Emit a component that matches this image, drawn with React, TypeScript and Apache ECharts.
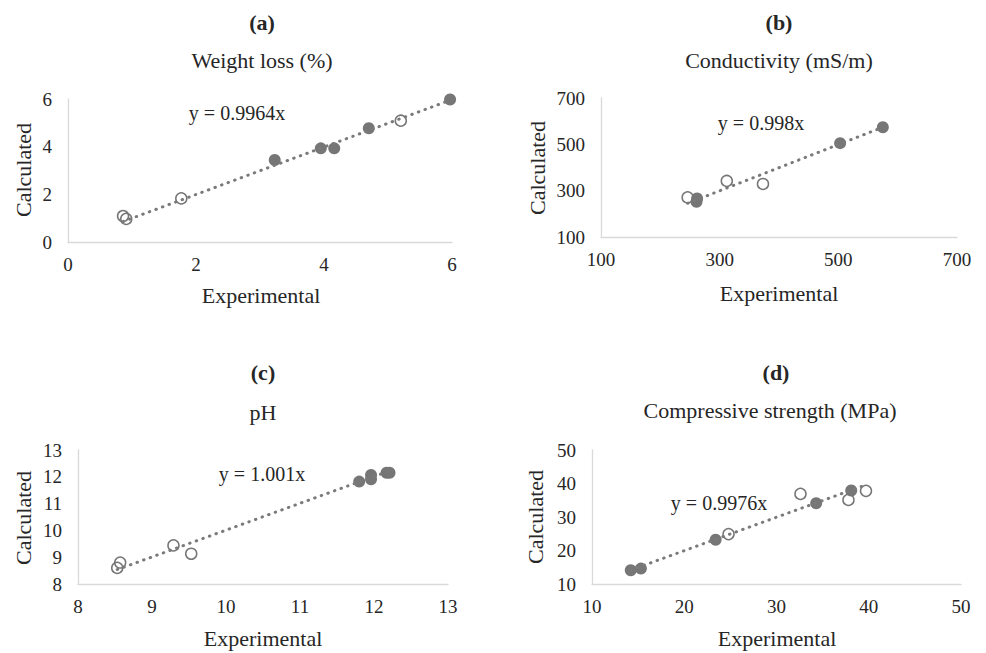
import React, { useEffect, useRef } from "react";
import * as echarts from "echarts";

// ---------- data ----------
const panelLetters = ["(a)", "(b)", "(c)", "(d)"];
const panelTitles = ["Weight loss (%)", "Conductivity (mS/m)", "pH", "Compressive strength (MPa)"];
const equations = ["y = 0.9964x", "y = 0.998x", "y = 1.001x", "y = 0.9976x"];
const slopes = [0.9964, 0.998, 1.001, 0.9976];

const axisMin = [0, 100, 8, 10];
const axisMax = [6, 700, 13, 50];
const axisInterval = [2, 200, 1, 10];

// (a) Weight loss
const aFilled = [[3.23, 3.44], [3.95, 3.93], [4.16, 3.93], [4.70, 4.77], [5.97, 5.98]];
const aHollow = [[0.86, 1.09], [0.91, 0.97], [1.77, 1.83], [5.20, 5.09]];
// (b) Conductivity
const bFilled = [[261, 252], [262, 266], [503, 505], [575, 574]];
const bHollow = [[246, 271], [312, 342], [373, 329]];
// (c) pH
const cFilled = [[11.80, 11.82], [11.96, 12.07], [11.96, 11.91], [12.17, 12.15], [12.21, 12.15]];
const cHollow = [[8.53, 8.60], [8.57, 8.80], [9.29, 9.44], [9.53, 9.13]];
// (d) Compressive strength
const dFilled = [[14.2, 14.1], [15.3, 14.6], [23.4, 23.2], [34.3, 34.1], [38.1, 37.9]];
const dHollow = [[24.8, 24.9], [32.6, 36.9], [37.8, 35.1], [39.7, 37.8]];

const filledSets = [aFilled, bFilled, cFilled, dFilled];
const hollowSets = [aHollow, bHollow, cHollow, dHollow];

// ---------- layout ----------
const grids = [
  { left: 68, top: 99, width: 384, height: 143 },
  { left: 601, top: 98, width: 356, height: 139 },
  { left: 78, top: 450, width: 370, height: 134 },
  { left: 592, top: 450, width: 369, height: 134 },
];
const letterPos = [[262, 22], [779, 22], [263, 372], [776, 372]];
const titlePos = [[262, 60], [779, 60], [263, 412], [770, 410]];
const eqPos = [[237, 113], [761, 123], [262, 474], [719, 503]];
const xNamePos = [[261, 295], [779, 293], [263, 638], [777, 638]];
const yNamePos = [[23, 170], [537, 168], [23, 518], [535, 517]];

const FONT = "Liberation Serif, Tinos, Times New Roman, DejaVu Serif, serif";
const TXT = "#262626";
const MARK = "#767676";

export default function App() {
  const ref = useRef<HTMLDivElement>(null);
  useEffect(() => {
    if (!ref.current) return;
    const chart = echarts.init(ref.current, undefined, { renderer: "svg" });

    const series: any[] = [];
    const xAxes: any[] = [];
    const yAxes: any[] = [];
    const graphics: any[] = [];

    const txt = (text: string, x: number, y: number, size: number, weight: string, rot = 0, z = 5) => ({
      type: "text",
      x,
      y,
      z,
      rotation: rot,
      style: {
        text,
        fill: TXT,
        fontFamily: FONT,
        fontSize: size,
        fontWeight: weight,
        textAlign: "center",
        textVerticalAlign: "middle",
      },
    });

    for (let i = 0; i < 4; i++) {
      const axisCommon = {
        type: "value",
        min: axisMin[i],
        max: axisMax[i],
        interval: axisInterval[i],
        gridIndex: i,
        axisLine: { show: true, lineStyle: { color: "#d9d9d9", width: 1.3 } },
        axisTick: { show: false },
        splitLine: { show: false },
      };
      xAxes.push({
        ...axisCommon,
        axisLabel: { color: TXT, fontFamily: FONT, fontSize: 19, margin: 13 },
      });
      yAxes.push({
        ...axisCommon,
        axisLabel: { color: TXT, fontFamily: FONT, fontSize: 19, margin: 16 },
      });

      const all = filledSets[i].concat(hollowSets[i]);
      const xs = all.map((p) => p[0]);
      const x0 = Math.min(...xs);
      const x1 = Math.max(...xs);
      series.push({
        type: "line",
        xAxisIndex: i,
        yAxisIndex: i,
        data: [[x0, slopes[i] * x0], [x1, slopes[i] * x1]],
        showSymbol: false,
        symbol: "none",
        lineStyle: { color: "#7a7a7a", width: 3, type: [0.5, 6.5], cap: "round" },
        z: 3,
      });
      series.push({
        type: "scatter",
        xAxisIndex: i,
        yAxisIndex: i,
        data: filledSets[i],
        symbol: "circle",
        symbolSize: 12,
        itemStyle: { color: MARK, opacity: 1 },
        z: 2,
      });
      series.push({
        type: "scatter",
        xAxisIndex: i,
        yAxisIndex: i,
        data: hollowSets[i],
        symbol: "circle",
        symbolSize: 11,
        itemStyle: { color: "rgba(255,255,255,0)", borderColor: MARK, borderWidth: 1.5, opacity: 1 },
        z: 2,
      });

      graphics.push(txt(panelLetters[i], letterPos[i][0], letterPos[i][1], 22, "bold"));
      graphics.push(txt(panelTitles[i], titlePos[i][0], titlePos[i][1], 22, "normal"));
      graphics.push(txt(equations[i], eqPos[i][0], eqPos[i][1], 20, "normal", 0, 10));
      graphics.push(txt("Experimental", xNamePos[i][0], xNamePos[i][1], 22, "normal"));
      graphics.push(txt("Calculated", yNamePos[i][0], yNamePos[i][1], 22, "normal", Math.PI / 2));
    }

    chart.setOption({
      animation: false,
      backgroundColor: "#ffffff",
      grid: grids.map((g) => ({ ...g, containLabel: false })),
      xAxis: xAxes,
      yAxis: yAxes,
      series,
      graphic: graphics,
    });
    return () => chart.dispose();
  }, []);

  return (
    <div
      ref={ref}
      style={{ position: "fixed", left: 0, top: 0, width: 986, height: 653, background: "#fff" }}
    />
  );
}
